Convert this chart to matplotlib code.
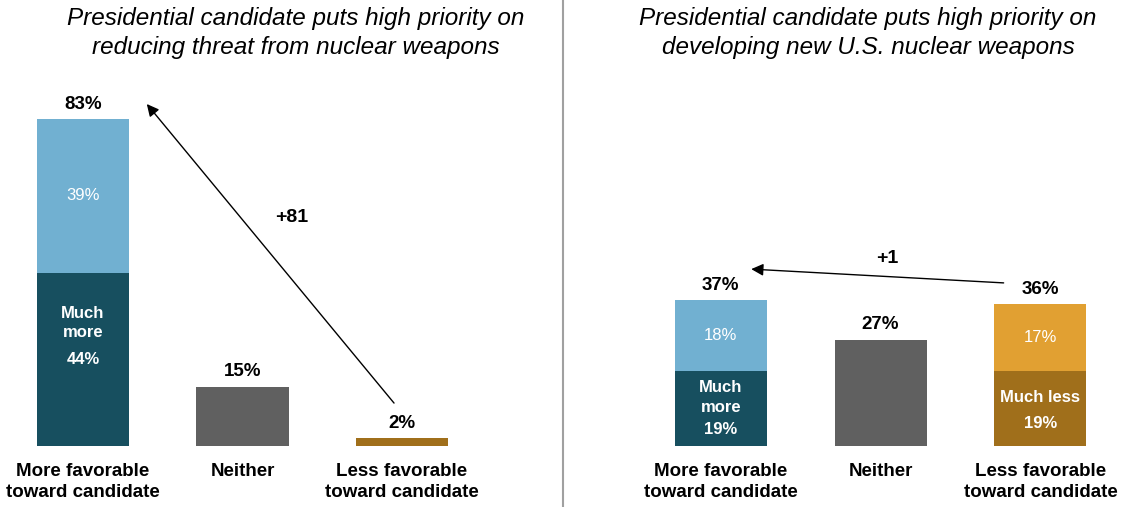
import matplotlib
matplotlib.use("Agg")
import matplotlib.pyplot as plt

plt.rcParams['font.family'] = ['Liberation Sans', 'DejaVu Sans']

# * ----- Data ----------------------------------------------------------------
categories = ['More favorable\ntoward candidate', 'Neither', 'Less favorable\ntoward candidate']

left_title = 'Presidential candidate puts high priority on\nreducing threat from nuclear weapons'
left_much = [44, 0, 2]      # "much more" / "much less" part
left_some = [39, 15, 0]     # remaining part ("somewhat", or the whole Neither bar)
left_change = '+81'

right_title = 'Presidential candidate puts high priority on\ndeveloping new U.S. nuclear weapons'
right_much = [19, 0, 19]
right_some = [18, 27, 17]
right_change = '+1'

# * ----- Colours -------------------------------------------------------------
LIGHT_BLUE = '#71b0d1'
DARK_TEAL = '#174f5f'
GREY = '#606060'
ORANGE = '#e1a032'
DARK_GOLD = '#a06f1b'

BAR_W = 0.577


def draw_panel(ax, much, some, change, much_text, more_lines, less_lines, arrow_from, arrow_to, change_xy):
    x = range(len(categories))
    much_cols = [DARK_TEAL, GREY, DARK_GOLD]
    some_cols = [LIGHT_BLUE, GREY, ORANGE]
    ax.bar(x, much, BAR_W, color=much_cols)
    ax.bar(x, some, BAR_W, bottom=much, color=some_cols)

    totals = [m + s for m, s in zip(much, some)]
    for i, t in enumerate(totals):
        ax.text(i, t + 3.8, f'{t}%', ha='center', va='center', fontsize=13.5, fontweight='bold')

    # segment labels inside the split bars
    for i in (0, 2):
        if much[i] and some[i]:
            ax.text(i, much[i] + some[i] / 2, f'{some[i]}%', ha='center', va='center',
                    fontsize=12, color='white')
    ax.text(0, much_text[0], f'{much[0]}%', ha='center', va='center', fontsize=12,
            fontweight='bold', color='white')
    ax.text(0, more_lines, 'Much\nmore', ha='center', va='center', fontsize=12,
            fontweight='bold', color='white', linespacing=1.4)
    if less_lines is not None:
        ax.text(2, much_text[1], f'{much[2]}%', ha='center', va='center', fontsize=12,
                fontweight='bold', color='white')
        ax.text(2, less_lines, 'Much less', ha='center', va='center', fontsize=12,
                fontweight='bold', color='white')

    ax.annotate('', xy=arrow_to, xytext=arrow_from,
                arrowprops=dict(arrowstyle='-|>', lw=1, color='black', mutation_scale=18,
                                shrinkA=0, shrinkB=0))
    ax.text(change_xy[0], change_xy[1], change, ha='center', va='center', fontsize=14,
            fontweight='bold')

    ax.set_xlim(-0.5, 2.5)
    ax.set_ylim(0, 100)
    ax.set_xticks(list(x))
    ax.set_xticklabels(categories, fontsize=13.5, fontweight='bold', linespacing=1.35)
    ax.tick_params(axis='x', length=0, pad=12)
    ax.set_yticks([])
    for s in ax.spines.values():
        s.set_visible(False)


fig = plt.figure(figsize=(11.21, 5.07), dpi=100)
W, H = 1121, 507

ax_l = fig.add_axes([3.25 / W, 0.1203, 478.5 / W, 0.7771])
ax_r = fig.add_axes([641.0 / W, 0.1203, 479.25 / W, 0.7771])

lt = [m + s for m, s in zip(left_much, left_some)]
draw_panel(ax_l, left_much, left_some, left_change,
           much_text=(left_much[0] / 2, None), more_lines=31.2, less_lines=None,
           arrow_from=(1.95, lt[2] + 8.9), arrow_to=(0.40, lt[0] + 3.8),
           change_xy=(1.31, 57.9))

rt = [m + s for m, s in zip(right_much, right_some)]
draw_panel(ax_r, right_much, right_some, right_change,
           much_text=(4.3, 5.8), more_lines=12.4, less_lines=12.2,
           arrow_from=(1.77, rt[2] + 5.4), arrow_to=(0.19, rt[0] + 7.9),
           change_xy=(1.04, 47.7))

fig.text(296 / W, 1 - 33 / H, left_title, ha='center', va='center', fontsize=17.5,
         style='italic', linespacing=1.3)
fig.text(868 / W, 1 - 33 / H, right_title, ha='center', va='center', fontsize=17.5,
         style='italic', linespacing=1.3)

# divider between the two panels
fig.add_artist(plt.Line2D([562.5 / W, 562.5 / W], [0, 1], color='#a0a0a0', lw=1.5))

fig.savefig('out.png', dpi=100)
